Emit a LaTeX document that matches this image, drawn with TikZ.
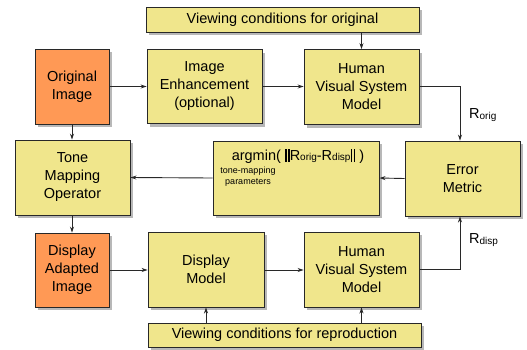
\documentclass[tikz,border=0pt]{standalone}
\usepackage{fontspec}
\setmainfont{Liberation Sans}
\usetikzlibrary{shadows,arrows.meta}
\definecolor{boxy}{RGB}{240,230,140}
\definecolor{boxo}{RGB}{255,153,85}
\definecolor{edge}{RGB}{40,40,40}
\newcommand{\Rsub}[1]{R{\fontsize{10}{10}\selectfont\raisebox{-0.8pt}{#1}}}
\newcommand{\nbar}{\rule[-2pt]{1.8pt}{13pt}\hspace{1.2pt}\rule[-2pt]{1.8pt}{13pt}}
\begin{document}
\begin{tikzpicture}[x=1pt,y=-1pt,
  blk/.style={draw=edge,line width=0.9pt,fill=boxy,inner sep=0pt,align=center,
    font=\fontsize{14.5}{18}\selectfont,
    drop shadow={shadow xshift=3pt,shadow yshift=-3pt,fill=black!35,opacity=0.8}},
  oblk/.style={blk,fill=boxo},
  conn/.style={draw=edge,line width=0.9pt,-{Stealth[length=6pt,width=4pt]}},
  lbl/.style={inner sep=0pt,font=\fontsize{14.5}{18}\selectfont}]
\useasboundingbox (0,0) rectangle (527,349);
\node[blk,minimum width=273pt,minimum height=25pt] (vco) at (282.5,19.5) {Viewing conditions for original};
\node[oblk,minimum width=74pt,minimum height=75pt] (orig) at (72,86.5) {Original\\Image};
\node[blk,minimum width=115pt,minimum height=74pt] (enh) at (204.5,86.5) {Image\\Enhancement\\(optional)};
\node[blk,minimum width=115pt,minimum height=75pt] (hvs1) at (361.5,87) {Human\\Visual System\\Model};
\node[blk,minimum width=115pt,minimum height=75pt] (em) at (462.5,178.5) {Error\\Metric};
\node[blk,minimum width=166pt,minimum height=74pt] (arg) at (296,178) {};
\node[lbl,anchor=base] (argt) at (298,160) {argmin( \nbar\Rsub{orig}-\Rsub{disp}\nbar\ )};
\node[inner sep=0pt,align=center,font=\fontsize{9}{11}\selectfont] (argp) at (248,177) {tone-mapping\\parameters};
\node[blk,minimum width=115pt,minimum height=75pt] (tmo) at (72.5,177.5) {Tone\\Mapping\\Operator};
\node[oblk,minimum width=74pt,minimum height=74pt] (dai) at (72,270) {Display\\Adapted\\Image};
\node[blk,minimum width=116pt,minimum height=75pt] (dm) at (206,269.5) {Display\\Model};
\node[blk,minimum width=115pt,minimum height=75pt] (hvs2) at (361.5,269.5) {Human\\Visual System\\Model};
\node[blk,minimum width=273pt,minimum height=24pt] (vcr) at (284.5,335) {Viewing conditions for reproduction};
\coordinate (c1) at (460,86);
\coordinate (c2) at (460,269);
\node[lbl,anchor=west] (ro) at (469,115) {\Rsub{orig}};
\node[lbl,anchor=west] (rd) at (469,240) {\Rsub{disp}};
\draw[conn] (orig) -- (enh);
\draw[conn] (enh.east |- orig) -- (hvs1.west |- orig);
\draw[conn] (vco.south -| hvs1) -- (hvs1.north);
\draw[conn] (hvs1.east |- c1) -- (c1) -- (c1 |- em.north);
\draw[conn] (em.west) -- (arg.east);
\draw[conn] (arg.west) -- (tmo.east);
\draw[conn] (orig.south) -- (tmo.north -| orig);
\draw[conn] (tmo.south -| dai) -- (dai.north);
\draw[conn] (dai.east) -- (dm.west |- dai);
\draw[conn] (dm.east |- dai) -- (hvs2.west |- dai);
\draw[conn] (hvs2.east |- c2) -- (c2) -- (c2 |- em.south);
\draw[conn] (vcr.north -| dm) -- (dm.south);
\draw[conn] (vcr.north -| hvs2) -- (hvs2.south);
\end{tikzpicture}
\end{document}
